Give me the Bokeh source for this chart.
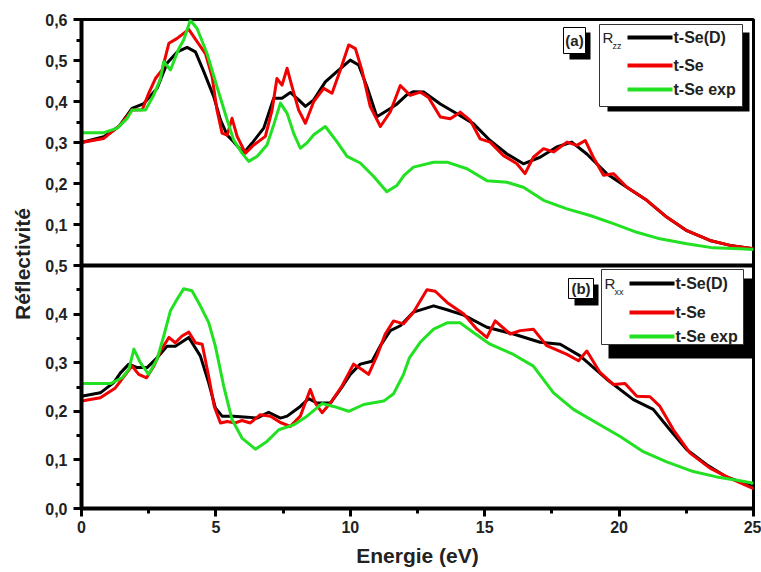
import numpy as np
from bokeh.plotting import figure
from bokeh.models import Range1d, FixedTicker, CustomJSTickFormatter, Span
from bokeh.embed import file_html
from bokeh.resources import INLINE
from bokeh.core.properties import value

# ---------------- data ----------------
# (a) R_zz
e_zz_D = [0, 0.83, 1.39, 1.88, 2.32, 2.81, 3.18, 3.56, 3.93, 4.24, 4.55, 4.92, 5.17, 5.42, 5.66, 6.03,
          6.34, 6.78, 7.15, 7.46, 7.77, 8.08, 8.33, 8.64, 9.07, 9.5, 10.0, 10.31, 10.62, 10.99, 11.49,
          11.74, 12.1, 12.35, 12.73, 13.35, 13.97, 14.58, 15.2, 15.83, 16.44, 17.06, 17.68, 18.24,
          18.8, 19.54, 20.29, 21.03, 21.77, 22.52, 23.38, 24.13, 25.0]
r_zz_D = [0.30, 0.314, 0.339, 0.383, 0.395, 0.432, 0.493, 0.521, 0.532, 0.521, 0.473, 0.412, 0.355,
          0.318, 0.302, 0.274, 0.298, 0.335, 0.408, 0.408, 0.422, 0.404, 0.388, 0.404, 0.448, 0.473,
          0.501, 0.489, 0.436, 0.363, 0.383, 0.394, 0.416, 0.424, 0.423, 0.394, 0.37, 0.346, 0.305,
          0.272, 0.248, 0.264, 0.289, 0.301, 0.272, 0.224, 0.191, 0.159, 0.118, 0.085, 0.061, 0.049,
          0.041]

e_zz = [0, 0.83, 1.45, 1.88, 2.26, 2.5, 2.75, 3.0, 3.25, 3.56, 3.99, 4.3, 4.61, 4.86, 5.04, 5.23,
        5.42, 5.6, 5.79, 6.1, 6.41, 6.84, 7.09, 7.27, 7.46, 7.65, 7.83, 8.08, 8.33, 8.64, 9.01, 9.32,
        9.63, 9.94, 10.19, 10.43, 10.74, 11.12, 11.49, 11.86, 12.23, 12.6, 12.91, 13.35, 13.72,
        14.09, 14.46, 14.83, 15.2, 15.7, 16.2, 16.5, 16.81, 17.19, 17.56, 18.06, 18.43, 18.74,
        19.04, 19.42, 19.79, 20.29, 21.03, 21.77, 22.52, 23.38, 24.13, 25.0]
r_zz = [0.30, 0.31, 0.343, 0.379, 0.38, 0.42, 0.456, 0.477, 0.542, 0.554, 0.576, 0.546, 0.517, 0.46,
        0.379, 0.323, 0.318, 0.359, 0.315, 0.274, 0.294, 0.315, 0.379, 0.456, 0.44, 0.481, 0.437,
        0.379, 0.347, 0.40, 0.432, 0.42, 0.477, 0.538, 0.529, 0.477, 0.388, 0.339, 0.375, 0.439,
        0.415, 0.423, 0.41, 0.362, 0.358, 0.374, 0.354, 0.309, 0.301, 0.268, 0.248, 0.224, 0.264,
        0.285, 0.277, 0.301, 0.293, 0.305, 0.264, 0.22, 0.224, 0.191, 0.159, 0.118, 0.085, 0.061,
        0.049, 0.041]

e_zz_exp = [0, 0.83, 1.33, 1.7, 1.88, 2.38, 2.69, 2.94, 3.06, 3.31, 3.62, 3.8, 4.05, 4.3, 4.67, 5.04,
            5.42, 5.66, 5.97, 6.22, 6.53, 6.9, 7.15, 7.4, 7.65, 7.89, 8.14, 8.39, 8.64, 9.07, 9.5,
            9.88, 10.37, 10.87, 11.36, 11.73, 12.0, 12.35, 13.1, 13.6, 14.34, 15.08, 15.83, 16.44,
            17.19, 18.06, 18.92, 19.79, 20.66, 21.52, 22.52, 23.5, 24.5, 25.0]
r_zz_exp = [0.324, 0.324, 0.335, 0.359, 0.379, 0.379, 0.416, 0.456, 0.497, 0.477, 0.529, 0.55, 0.598,
            0.578, 0.517, 0.436, 0.355, 0.306, 0.274, 0.254, 0.266, 0.294, 0.343, 0.396, 0.371, 0.323,
            0.286, 0.299, 0.319, 0.339, 0.302, 0.266, 0.25, 0.217, 0.18, 0.195, 0.22, 0.24, 0.252,
            0.252, 0.236, 0.207, 0.203, 0.191, 0.159, 0.138, 0.122, 0.102, 0.081, 0.065, 0.053, 0.043,
            0.041, 0.039]

# (b) R_xx
e_xx_D = [0, 0.7, 1.2, 1.45, 1.76, 2.07, 2.44, 2.81, 3.18, 3.49, 3.99, 4.42, 4.73, 4.98, 5.23, 5.66,
          6.16, 6.53, 6.96, 7.4, 7.65, 8.14, 8.45, 8.76, 9.26, 9.63, 10.0, 10.37, 10.81, 11.12, 11.49,
          11.86, 12.35, 13.1, 13.6, 14.22, 15.08, 16.07, 17.06, 17.81, 18.55, 19.54, 20.53, 21.27,
          21.89, 22.52, 23.26, 24.0, 25.0]
r_xx_D = [0.231, 0.238, 0.259, 0.279, 0.297, 0.29, 0.29, 0.31, 0.334, 0.334, 0.352, 0.314, 0.259,
          0.207, 0.19, 0.19, 0.188, 0.186, 0.198, 0.186, 0.19, 0.21, 0.226, 0.217, 0.217, 0.245,
          0.276, 0.297, 0.303, 0.335, 0.366, 0.376, 0.404, 0.417, 0.409, 0.398, 0.373, 0.359, 0.342,
          0.338, 0.314, 0.266, 0.224, 0.204, 0.162, 0.121, 0.09, 0.065, 0.045]

e_xx = [0, 0.7, 1.26, 1.64, 1.88, 2.13, 2.42, 2.69, 2.94, 3.25, 3.49, 3.74, 3.99, 4.24, 4.49, 4.73,
        4.94, 5.17, 5.42, 5.72, 5.97, 6.28, 6.65, 7.03, 7.4, 7.77, 8.14, 8.51, 8.7, 8.95, 9.26, 9.69,
        10.12, 10.43, 10.68, 10.99, 11.3, 11.61, 11.98, 12.35, 12.85, 13.16, 13.6, 14.22, 14.71,
        15.08, 15.39, 15.95, 16.32, 16.81, 17.31, 18.06, 18.49, 18.8, 19.29, 19.79, 20.22, 20.66,
        21.15, 21.52, 22.02, 22.64, 23.38, 24.13, 25.0]
r_xx = [0.221, 0.228, 0.248, 0.276, 0.293, 0.276, 0.269, 0.293, 0.324, 0.352, 0.341, 0.355, 0.363,
        0.341, 0.338, 0.272, 0.21, 0.176, 0.179, 0.176, 0.181, 0.176, 0.193, 0.19, 0.177, 0.169,
        0.19, 0.245, 0.217, 0.197, 0.217, 0.252, 0.297, 0.286, 0.276, 0.314, 0.359, 0.386, 0.38,
        0.404, 0.45, 0.447, 0.424, 0.40, 0.369, 0.352, 0.386, 0.359, 0.366, 0.369, 0.335, 0.317,
        0.304, 0.324, 0.28, 0.255, 0.257, 0.231, 0.23, 0.21, 0.162, 0.114, 0.083, 0.062, 0.041]

e_xx_exp = [0, 1.08, 1.51, 1.76, 1.95, 2.19, 2.5, 2.81, 3.06, 3.31, 3.56, 3.8, 4.11, 4.42, 4.73,
            4.98, 5.29, 5.6, 5.97, 6.47, 6.9, 7.34, 7.89, 8.39, 8.95, 9.38, 9.94, 10.5, 11.24, 11.61,
            11.98, 12.2, 12.6, 13.1, 13.6, 14.09, 14.58, 15.2, 16.07, 16.81, 17.56, 18.3, 19.17,
            20.04, 20.9, 21.77, 22.76, 23.63, 24.5, 25.0]
r_xx_exp = [0.257, 0.257, 0.269, 0.286, 0.328, 0.30, 0.276, 0.307, 0.355, 0.407, 0.431, 0.452, 0.448,
            0.417, 0.383, 0.334, 0.252, 0.183, 0.145, 0.122, 0.138, 0.162, 0.172, 0.19, 0.216, 0.21,
            0.20, 0.214, 0.221, 0.236, 0.276, 0.31, 0.342, 0.369, 0.382, 0.382, 0.362, 0.338, 0.317,
            0.293, 0.238, 0.204, 0.176, 0.148, 0.117, 0.096, 0.076, 0.065, 0.057, 0.052]

x_ticks = [0, 5, 10, 15, 20, 25]
x_minor = [2.5, 7.5, 12.5, 17.5, 22.5]
bot_ticks = [0.0, 0.1, 0.2, 0.3, 0.4, 0.5]
top_ticks = [0.1, 0.2, 0.3, 0.4, 0.5, 0.6]
labels = ["t-Se(D)", "t-Se", "t-Se exp"]

BLACK, RED, GREEN = "#000000", "#f00000", "#22e022"
FONT = "Liberation Sans"

# ---------------- layout (pixels) ----------------
W, H = 761, 572
FL, FR, FT, FB = 81, 753, 19, 508
MID = 265
BOT_MAX, TOP_MAX = 0.5, 0.6
px_bot = (FB - MID) / BOT_MAX         # px per bottom unit
px_top = (MID - FT) / TOP_MAX         # px per top unit
main_end = (FB - FT) / px_bot
top_start = -(FB - MID) / px_top
k = px_top / px_bot                   # main units per top unit

p = figure(width=W, height=H, x_range=Range1d(0, 25), y_range=Range1d(0, main_end),
           output_backend="svg", toolbar_location=None,
           min_border_left=FL, min_border_right=W - FR, min_border_top=FT,
           min_border_bottom=H - FB)
p.extra_y_ranges = {"top": Range1d(top_start, TOP_MAX)}
p.grid.visible = False
p.outline_line_color = "black"
p.outline_line_width = 3
p.background_fill_color = "white"
p.border_fill_color = "white"

# axes
xa = p.xaxis[0]
ya = p.yaxis[0]
xa.ticker = FixedTicker(ticks=x_ticks, minor_ticks=x_minor)
yt = [v for v in bot_ticks] + [BOT_MAX + v * k for v in top_ticks[:-1]] + [main_end]
ym = [v + 0.05 for v in bot_ticks[:-1]] + [BOT_MAX + (v - 0.05) * k for v in top_ticks]
ya.ticker = FixedTicker(ticks=yt, minor_ticks=ym)
ya.formatter = CustomJSTickFormatter(args=dict(k=k, mid=BOT_MAX), code="""
    let v = tick;
    if (tick > mid + 1e-6) { v = (tick - mid) / k; }
    return v.toFixed(1).replace('.', ',');
""")
for ax in (xa, ya):
    ax.axis_line_width = 4
    ax.major_tick_line_width = 3
    ax.minor_tick_line_width = 3
    ax.major_tick_out = 8
    ax.major_tick_in = 0
    ax.minor_tick_out = 5
    ax.minor_tick_in = 0
    ax.major_label_text_font = FONT
    ax.major_label_text_font_style = "bold"
    ax.major_label_text_font_size = "16px"
    ax.major_label_text_color = "#222222"
    ax.axis_label_text_font = FONT
    ax.axis_label_text_font_style = "bold"
    ax.axis_label_text_font_size = "21px"
    ax.axis_label_text_color = "#222222"
xa.axis_label = "Energie (eV)"
ya.axis_label = "Réflectivité"
xa.major_label_standoff = 4
xa.axis_label_standoff = 8
ya.major_label_standoff = 6
ya.axis_label_standoff = 8

p.add_layout(Span(location=BOT_MAX, dimension="width", line_color="black", line_width=4))

# curves
LW = 3
p.line(e_zz_D, r_zz_D, color=BLACK, line_width=LW, y_range_name="top", line_join="round")
p.line(e_zz, r_zz, color=RED, line_width=LW, y_range_name="top", line_join="round")
p.line(e_zz_exp, r_zz_exp, color=GREEN, line_width=LW, y_range_name="top", line_join="round")
p.line(e_xx_D, r_xx_D, color=BLACK, line_width=LW, line_join="round")
p.line(e_xx, r_xx, color=RED, line_width=LW, line_join="round")
p.line(e_xx_exp, r_xx_exp, color=GREEN, line_width=LW, line_join="round")

# ---------------- legends (placed in pixels) ----------------
def X(px):
    return (px - FL) / (FR - FL) * 25.0

def Y(py):
    return (FB - py) / px_bot

def box(l, t, r, b, fill, line=None, lw=1):
    p.quad(left=[X(l)], right=[X(r)], top=[Y(t)], bottom=[Y(b)], fill_color=fill,
           line_color=line, line_width=lw)

def txt(px, py, s, size, bold=True, align="left"):
    p.text(x=[X(px)], y=[Y(py)], text=[s], text_font=value(FONT), text_font_size=size,
           text_font_style="bold" if bold else "normal", text_baseline="middle",
           text_align=align, text_color="#222222")

def legend(tag, tag_box, tag_shadow, lbox, lshadow, sub, rows_y, line_x0, line_x1):
    box(*tag_shadow, fill="black")
    box(*tag_box, fill="white", line="black")
    txt((tag_box[0] + tag_box[2]) / 2, (tag_box[1] + tag_box[3]) / 2, tag, "15px", align="center")
    box(*lshadow, fill="black")
    box(*lbox, fill="white", line="#333333")
    txt(lbox[0] + 3, rows_y[0], "R", "15px", bold=False)
    txt(lbox[0] + 13, rows_y[0] + 8, sub, "9px", bold=False)
    for yy, col, lab in zip(rows_y, [BLACK, RED, GREEN], labels):
        p.line([X(line_x0), X(line_x1)], [Y(yy), Y(yy)], color=col, line_width=4)
        txt(line_x1 + 1, yy, lab, "16px")

legend("(a)", (563, 27, 585, 53), (569, 32, 590, 59), (599, 24, 742, 106), (607, 32, 749, 111),
       "zz", [37, 65, 89], 627, 672)
legend("(b)", (568, 278, 593, 298), (574, 284, 598, 305), (601, 269, 743, 344), (608, 278, 752, 358),
       "xx", [283, 312, 336], 629, 674)

open("out.html", "w").write(file_html(p, INLINE))
